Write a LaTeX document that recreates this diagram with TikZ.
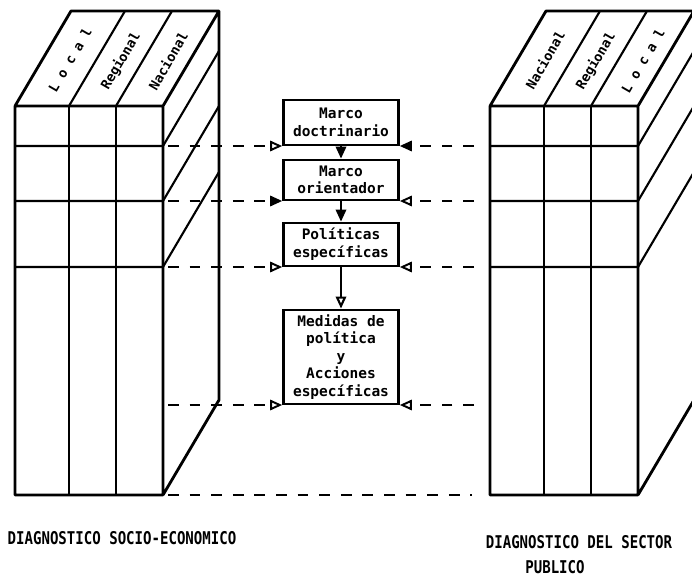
\documentclass[tikz,border=0pt]{standalone}
\usepackage{fontspec}
\setmonofont{DejaVu Sans Mono}
\newfontfamily\lblfont{DejaVu Sans Mono}[FakeStretch=0.8]
\usetikzlibrary{arrows.meta,positioning}
\tikzset{box/.style={draw,line width=1.7pt,align=center,font=\ttfamily\bfseries\fontsize{10.3}{12.5}\selectfont,minimum width=2.88cm,inner sep=2pt},
flow/.style={-{Triangle[length=3mm,width=2.6mm]},line width=1.5pt},
tipf/.style={-{Triangle[length=3mm,width=2.6mm]}},tipo/.style={-{Triangle[open,length=3mm,width=2.6mm]}},
feed/.style={line width=1.4pt,dash pattern=on 0.27cm off 0.27cm},
face/.style={line width=2pt,line join=round},grid/.style={line width=1.5pt},
strip/.style={font=\ttfamily\bfseries\fontsize{9.5}{9.5}\selectfont,rotate=60,inner sep=0pt},
foot/.style={font=\lblfont\bfseries\fontsize{12.5}{15}\selectfont}}
\begin{document}
\begin{tikzpicture}[x=0.025cm,y=-0.025cm]
\useasboundingbox(0,0)rectangle(692,577);
\fill[white](0,0)rectangle(692,577);
\clip(0,0)rectangle(692,577);
\foreach\x/\s/\a/\b/\c in{15/soc/{L o c a l}/Regional/Nacional,490/pub/Nacional/Regional/{L o c a l}}{
\draw[grid](\x+54,106)--(\x+54,495)(\x+101,106)--(\x+101,495);
\foreach\y in{146,201,267}\draw[grid](\x,\y)--(\x+148,\y)--++(56,-95);
\draw[grid](\x+54,106)--++(56,-95)(\x+101,106)--++(56,-95);
\draw[face](\x,495)rectangle(\x+148,106)(\x,106)--++(56,-95)--++(148,0)--++(0,389)--(\x+148,495)(\x+148,106)--++(56,-95);
\node[strip](\s-1)at(\x+55,60){\a};\node[strip](\s-2)at(\x+106,61){\b};\node[strip](\s-3)at(\x+153,61){\c};}
\node[box,minimum height=1.125cm,anchor=south](b1)at(341,146){Marco\\doctrinario};
\node[box,minimum height=1cm,anchor=south](b2)at(341,201){Marco\\orientador};
\node[box,minimum height=1.075cm,anchor=south](b3)at(341,267){Políticas\\específicas};
\node[box,minimum height=2.35cm,anchor=south](b4)at(341,405){Medidas de\\política\\y\\Acciones\\específicas};
\draw[flow](b1)--(b2);\draw[flow](b2)--(b3);\draw[flow,tipo](b3)--(b4);
\foreach\n/\y/\p/\q in{b1/146/tipo/tipf,b2/201/tipf/tipo,b3/267/tipo/tipo,b4/405/tipo/tipo}{
\coordinate(l\n)at(168,\y);\coordinate(r\n)at(474,\y);
\draw[feed,\p](l\n)--(\n.south west);\draw[feed,\q](r\n)--(\n.south east);}
\coordinate(sbase)at(168,495);\coordinate(pbase)at(472,495);
\draw[feed](sbase)--(pbase);
\node[foot](fsoc)at(122,538){DIAGNOSTICO SOCIO-ECONOMICO};
\node[foot](fpub)at(579,542){DIAGNOSTICO DEL SECTOR};
\node[foot](fpub2)at(555,567){PUBLICO};
\end{tikzpicture}
\end{document}
